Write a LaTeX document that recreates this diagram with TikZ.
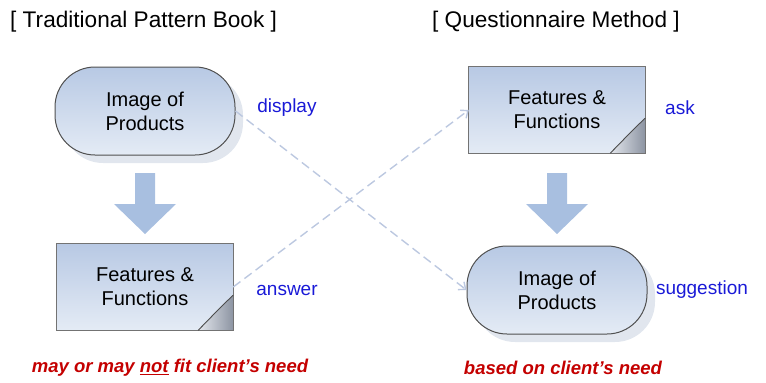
\documentclass[tikz,border=0pt]{standalone}
\usepackage{fontspec}
\setmainfont{Liberation Sans}
\usetikzlibrary{arrows.meta,shadows,calc}
\definecolor{nodetop}{RGB}{184,201,228}
\definecolor{nodebot}{RGB}{228,235,245}
\definecolor{edgegray}{RGB}{80,80,80}
\definecolor{pagegray}{RGB}{115,115,115}
\definecolor{dashcol}{RGB}{188,200,224}
\definecolor{bigarrowcol}{RGB}{168,191,224}
\definecolor{lblblue}{RGB}{25,25,215}
\definecolor{needred}{RGB}{196,0,0}
\definecolor{shadowcol}{RGB}{218,224,234}
\definecolor{folddark}{RGB}{140,148,162}
\definecolor{foldlight}{RGB}{228,231,237}
\newcommand\pagefold[1]{%
  \shade[shading angle=45, left color=foldlight, right color=folddark]
    ($(#1.south east)+(0,-35)$) -- (#1.south east) -- ($(#1.south east)+(-35,0)$) -- cycle;
  \draw[pageedge] (#1.north west) rectangle (#1.south east);
  \draw[draw=black!70, line width=0.9pt] ($(#1.south east)+(0,-35)$) .. controls ($(#1.south east)+(-15,-21)$) and ($(#1.south east)+(-22,-13)$) .. ($(#1.south east)+(-35,0)$);
}
\begin{document}
\begin{tikzpicture}[x=1pt,y=-1pt,
  nodetext/.style={align=center, font=\fontsize{20}{24}\selectfont},
  pill/.style={nodetext, rounded corners=40pt, minimum width=180pt, minimum height=88pt,
    top color=nodetop, bottom color=nodebot, draw=edgegray, line width=1pt,
    drop shadow={shadow xshift=8pt, shadow yshift=-8pt, fill=shadowcol, opacity=0.8}},
  page/.style={nodetext, minimum width=176pt, minimum height=86pt, inner sep=0pt,
    top color=nodetop, bottom color=nodebot},
  pageedge/.style={draw=pagegray, line width=0.9pt},
  title/.style={font=\fontsize{22.6}{26}\selectfont, anchor=west, inner sep=0pt},
  lbl/.style={font=\fontsize{19}{22}\selectfont, text=lblblue},
  need/.style={font=\fontsize{18.5}{22}\selectfont\bfseries\itshape, text=needred},
  link/.style={draw=dashcol, line width=1.4pt, dash pattern=on 9pt off 5pt, -{Straight Barb[length=6pt,width=10pt]}},
  bigarrow/.style={fill=bigarrowcol}
]
\useasboundingbox (0,0) rectangle (766,383);

\node[title] (t1) at (10,22) {[ Traditional Pattern Book ]};
\node[title] (t2) at (432,22) {[ Questionnaire Method ]};

\node[pill] (imgL) at (145,111) {Image of\\Products};
\node[page] (featL) at (145,287) {Features \&\\Functions};
\pagefold{featL}

\node[page] (featR) at (557,110) {Features \&\\Functions};
\pagefold{featR}
\node[pill] (imgR) at (557,290) {Image of\\Products};

\coordinate (arL) at (145,173);
\coordinate (arR) at (557,173);
\foreach \a in {arL,arR}{
  \fill[bigarrow] (\a) ++(-10,0) -- ++(20,0) -- ++(0,31) -- ++(21,0) -- ++(-31,30) -- ++(-31,-30) -- ++(21,0) -- cycle;
}

\node[lbl] (ldisp) at (287,108) {display};
\node[lbl] (lans) at (287,290) {answer};
\node[lbl] (lask) at (680,108) {ask};
\node[lbl] (lsug) at (702,290) {suggestion};

\draw[link] (imgL.east) -- (imgR.west);
\draw[link] (featL.east) -- (featR.west);

\node[need] (nL) at (170,368) {may or may \underline{not} fit client's need};
\node[need] (nR) at (563,368) {based on client's need};
\end{tikzpicture}
\end{document}
